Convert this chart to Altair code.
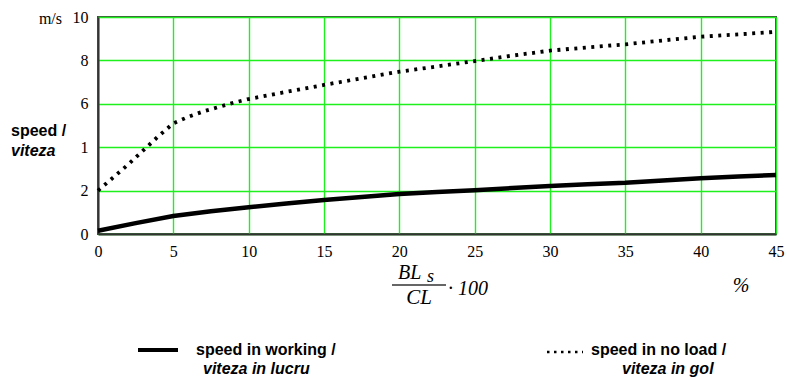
import altair as alt
import pandas as pd

# data
noload_x = [0, 1, 2, 3, 4, 5, 6, 7, 8, 9, 10, 12.5, 15, 17.5, 20, 22.5, 25, 27.5, 30, 32.5, 35, 37.5, 40, 42.5, 45]
noload_y = [2.0, 2.6, 3.2, 3.85, 4.5, 5.1, 5.4, 5.65, 5.85, 6.05, 6.22, 6.55, 6.87, 7.18, 7.48, 7.72, 7.97, 8.22, 8.45, 8.6, 8.74, 8.92, 9.09, 9.2, 9.32]
work_x = [0, 2.5, 5, 7.5, 10, 12.5, 15, 17.5, 20, 22.5, 25, 27.5, 30, 32.5, 35, 37.5, 40, 42.5, 45]
work_y = [0.15, 0.5, 0.83, 1.05, 1.23, 1.41, 1.57, 1.71, 1.84, 1.94, 2.02, 2.12, 2.21, 2.29, 2.36, 2.47, 2.57, 2.65, 2.72]
x_ticks = [0, 5, 10, 15, 20, 25, 30, 35, 40, 45]
y_ticks = [0, 2, 4, 6, 8, 10]

SERIF = "Liberation Serif"
SANS = "Liberation Sans"

noload = pd.DataFrame({"x": noload_x, "y": noload_y})
work = pd.DataFrame({"x": work_x, "y": work_y})

xs = alt.Scale(domain=[0, 45], nice=False, zero=False)
ys = alt.Scale(domain=[0, 10], nice=False)

xaxis = alt.Axis(values=x_ticks, title=None, grid=True, ticks=False, labelPadding=9,
                 labelFont=SERIF, labelFontSize=16, labelColor="black", labelAngle=0,
                 gridColor="#1ef01e", gridWidth=1.4, gridOpacity=1,
                 domainColor="#333333", domainWidth=2, labelFlush=False)
yaxis = alt.Axis(values=y_ticks, title=None, grid=True, ticks=False, labelPadding=10,
                 labelFont=SERIF, labelFontSize=16, labelColor="black",
                 labelExpr="datum.value == 4 ? '1' : datum.label", labelBaseline="middle",
                 gridColor="#1ef01e", gridWidth=1.4, gridOpacity=1,
                 domainColor="#333333", domainWidth=2)

line_work = alt.Chart(work).mark_line(color="black", strokeWidth=4.5).encode(
    x=alt.X("x:Q", scale=xs, axis=xaxis),
    y=alt.Y("y:Q", scale=ys, axis=yaxis),
)
line_noload = alt.Chart(noload).mark_line(color="black", strokeWidth=3.8, strokeDash=[3, 5.5]).encode(
    x=alt.X("x:Q", scale=xs),
    y=alt.Y("y:Q", scale=ys),
)


def label(text, x, y, **kw):
    return alt.Chart(pd.DataFrame({"t": [text]})).mark_text(**kw).encode(
        x=alt.value(x), y=alt.value(y), text="t:N")


one = pd.DataFrame({"a": [0]})
# origin of plot is (98, 17) in page pixels
OX, OY = 98, 17

texts = [
    label("m/s", 62 - OX, 19 - OY, font=SERIF, fontSize=16, align="right", baseline="middle"),
    label("speed /", 11 - OX, 131 - OY, font=SANS, fontSize=16, fontWeight="bold", align="left", baseline="middle"),
    label("viteza", 11 - OX, 151 - OY, font=SANS, fontSize=16, fontWeight="bold", fontStyle="italic", align="left", baseline="middle"),
    label("BL", 398 - OX, 273 - OY, font=SERIF, fontSize=20, fontStyle="italic", align="left", baseline="middle"),
    label("s", 427 - OX, 277 - OY, font=SERIF, fontSize=18, fontStyle="italic", align="left", baseline="middle"),
    label("CL", 419 - OX, 298 - OY, font=SERIF, fontSize=21, fontStyle="italic", align="center", baseline="middle"),
    label("\u00b7 100", 448 - OX, 289 - OY, font=SERIF, fontSize=20, fontStyle="italic", align="left", baseline="middle"),
    label("%", 741 - OX, 286 - OY, font=SERIF, fontSize=20, fontStyle="italic", align="center", baseline="middle"),
    label("speed in working  /", 196 - OX, 350 - OY, font=SANS, fontSize=16, fontWeight="bold", align="left", baseline="middle"),
    label("viteza in lucru", 203 - OX, 369 - OY, font=SANS, fontSize=16, fontWeight="bold", fontStyle="italic", align="left", baseline="middle"),
    label("speed in no load  /", 591 - OX, 350 - OY, font=SANS, fontSize=16, fontWeight="bold", align="left", baseline="middle"),
    label("viteza in gol", 622 - OX, 369 - OY, font=SANS, fontSize=16, fontWeight="bold", fontStyle="italic", align="left", baseline="middle"),
]

frac_bar = alt.Chart(one).mark_rule(color="#333333", strokeWidth=1.3).encode(
    x=alt.value(392 - OX), x2=alt.value(446 - OX), y=alt.value(285 - OY))
leg_solid = alt.Chart(one).mark_rule(color="black", strokeWidth=4).encode(
    x=alt.value(138 - OX), x2=alt.value(178 - OX), y=alt.value(350 - OY))
leg_dots = alt.Chart(one).mark_rule(color="black", strokeWidth=2.5, strokeDash=[2.5, 4.5]).encode(
    x=alt.value(547 - OX), x2=alt.value(583 - OX), y=alt.value(352 - OY))

chart = alt.layer(line_work, line_noload, frac_bar, leg_solid, leg_dots, *texts).properties(
    width=678, height=217,
    padding={"left": OX, "top": OY, "right": 11, "bottom": 146},
    autosize=alt.AutoSizeParams(type="none"),
    background="white",
).configure_view(stroke="#444444", strokeWidth=2)

chart.save("out.html", embed_options={"renderer": "svg", "actions": False})
